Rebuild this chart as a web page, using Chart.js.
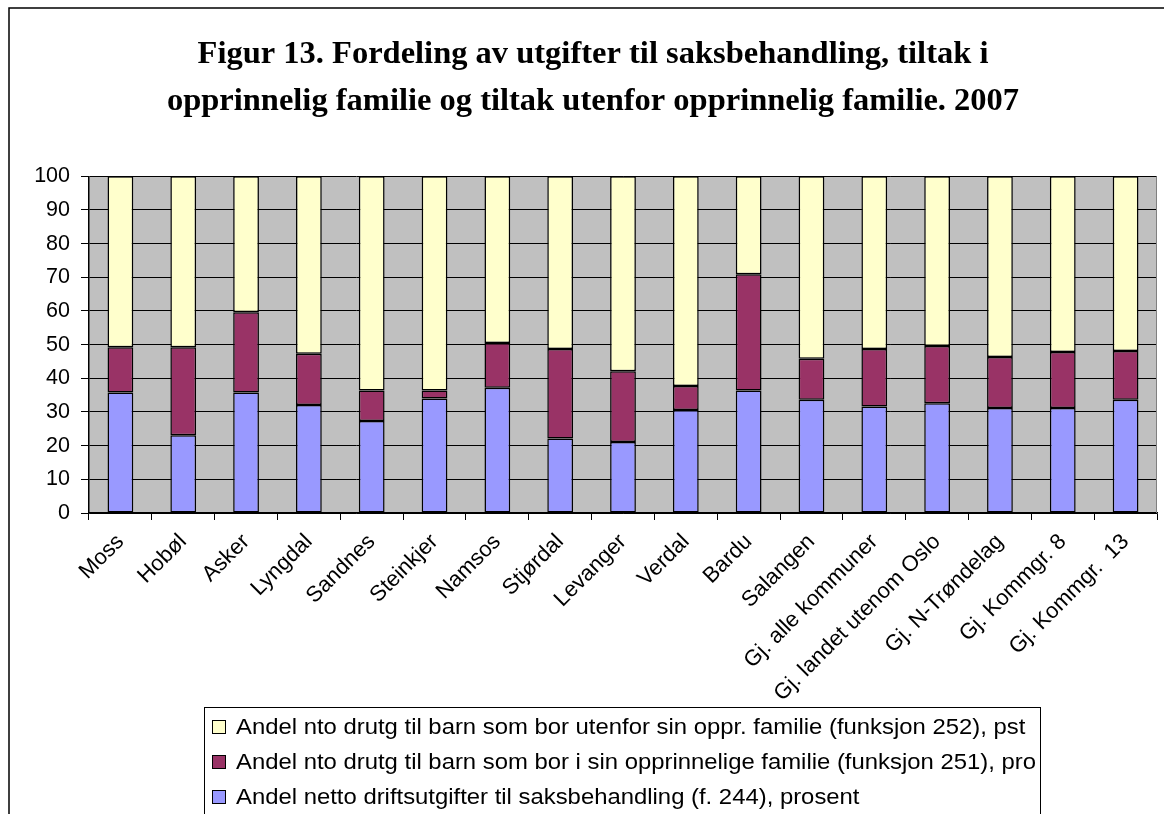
<!DOCTYPE html>
<html>
<head>
<meta charset="utf-8">
<script src="https://cdn.jsdelivr.net/npm/chart.js@4"></script>
<style>
html,body{margin:0;padding:0;background:#fff;overflow:hidden}
#wrap{width:1164px;height:814px;position:relative}
</style>
</head>
<body>
<div id="wrap"><canvas id="c" width="1164" height="814"></canvas></div>
<script>
// ---- Data ----
const categories = ["Moss", "Hobøl", "Asker", "Lyngdal", "Sandnes", "Steinkjer", "Namsos", "Stjørdal", "Levanger", "Verdal", "Bardu", "Salangen", "Gj. alle kommuner", "Gj. landet utenom Oslo", "Gj. N-Trøndelag", "Gj. Kommgr. 8", "Gj. Kommgr.  13"];
const saksbehandling = [35.8, 23.1, 35.8, 32.1, 27.3, 34.0, 37.2, 22.1, 21.1, 30.6, 36.4, 33.6, 31.6, 32.6, 31.2, 31.2, 33.6];
const iFamilie = [13.4, 26.1, 23.8, 15.2, 9.1, 2.4, 13.3, 26.6, 21.0, 7.1, 34.5, 12.2, 17.1, 17.0, 15.1, 16.6, 14.5];
const utenforFamilie = [50.8, 50.8, 40.4, 52.7, 63.6, 63.6, 49.5, 51.3, 57.9, 62.3, 29.1, 54.2, 51.3, 50.4, 53.7, 52.2, 51.9];
const seriesLabels = [
  "Andel netto driftsutgifter til saksbehandling (f. 244), prosent",
  "Andel nto drutg til barn som bor i sin opprinnelige familie (funksjon 251), pro",
  "Andel nto drutg til barn som bor utenfor sin oppr. familie (funksjon 252), pst"
];
const yTicks = [0, 10, 20, 30, 40, 50, 60, 70, 80, 90, 100];
const titleLines = [
  "Figur 13. Fordeling av utgifter til saksbehandling, tiltak i",
  "opprinnelig familie og tiltak utenfor opprinnelig familie. 2007"
];

const SANS = "'Liberation Sans', Arial, sans-serif";
const SERIF = "'Liberation Serif', 'Times New Roman', serif";

const decor = {
  id: 'decor',
  afterLayout(chart) {
    if (chart.titleBlock) { chart.titleBlock.left += 29; }
  },
  beforeDraw(chart) {
    const {ctx, chartArea: a} = chart;
    ctx.save();
    ctx.fillStyle = '#fff';
    ctx.fillRect(0, 0, chart.width, chart.height);
    ctx.fillStyle = '#C0C0C0';
    ctx.fillRect(a.left, a.top, a.right - a.left, a.bottom - a.top);
    ctx.restore();
  },
  afterDraw(chart) {
    const {ctx, chartArea: a} = chart;
    ctx.save();
    // right edge of plot area
    ctx.strokeStyle = '#808080';
    ctx.lineWidth = 1;
    ctx.beginPath();
    ctx.moveTo(a.right - 0.5, a.top);
    ctx.lineTo(a.right - 0.5, a.bottom);
    ctx.stroke();
    // outer frame
    ctx.strokeStyle = '#000';
    ctx.lineWidth = 1.5;
    ctx.strokeRect(9, 8, 1300, 1000);
    // legend box
    const lx = 204, ly = 707, lw = 836;
    ctx.fillStyle = '#fff';
    ctx.fillRect(lx, ly, lw, 200);
    ctx.lineWidth = 1;
    ctx.strokeRect(lx + 0.5, ly + 0.5, lw, 200);
    const items = chart.data.datasets.map(d => ({label: d.label, color: d.backgroundColor})).reverse();
    ctx.font = '21.5px ' + SANS;
    ctx.textBaseline = 'middle';
    ctx.textAlign = 'left';
    items.forEach((it, i) => {
      const cy = 727 + i * 35;
      ctx.fillStyle = it.color;
      ctx.fillRect(212.5, cy - 6.5, 13, 13);
      ctx.strokeStyle = '#000';
      ctx.strokeRect(212.5, cy - 6.5, 13, 13);
      ctx.fillStyle = '#000';
      ctx.save();
      ctx.translate(236, cy + 1);
      ctx.scale(1.11, 1);
      ctx.fillText(it.label, 0, 0);
      ctx.restore();
    });
    ctx.restore();
  }
};

const colors = ['#9999FF', '#993366', '#FFFFCC'];
const values = [saksbehandling, iFamilie, utenforFamilie];

new Chart(document.getElementById('c'), {
  type: 'bar',
  data: {
    labels: categories,
    datasets: values.map((v, i) => ({
      label: seriesLabels[i],
      data: v,
      backgroundColor: colors[i],
      borderColor: '#000',
      borderWidth: 1.5,
      borderSkipped: false,
      barPercentage: 0.41,
      categoryPercentage: 1
    }))
  },
  options: {
    responsive: false,
    devicePixelRatio: 1,
    animation: false,
    layout: {padding: {left: 0, right: 7, top: 0, bottom: 0}},
    plugins: {
      legend: {display: false},
      tooltip: {enabled: false},
      title: {
        display: true,
        text: titleLines,
        color: '#000',
        font: {family: SERIF, size: 32.5, weight: 'bold', lineHeight: 1.42},
        padding: {top: 32, bottom: 52}
      }
    },
    scales: {
      x: {
        stacked: true,
        grid: {offset: true, drawOnChartArea: false, drawTicks: true, tickLength: 7, color: '#000', lineWidth: 1},
        border: {color: '#000', width: 1.5},
        ticks: {autoSkip: false, minRotation: 45, maxRotation: 45, color: '#000', padding: 9,
                font: {family: SANS, size: 22}},
        afterFit(s) { s.height = 301; }
      },
      y: {
        stacked: true,
        min: 0, max: 100,
        afterBuildTicks(s) { s.ticks = yTicks.map(v => ({value: v})); },
        grid: {color: '#000', lineWidth: 1, tickLength: 8},
        border: {color: '#000', width: 1.5},
        ticks: {color: '#000', padding: 11, font: {family: SANS, size: 21.5}},
        afterFit(s) { s.width = 89; }
      }
    }
  },
  plugins: [decor]
});
</script>
</body>
</html>
